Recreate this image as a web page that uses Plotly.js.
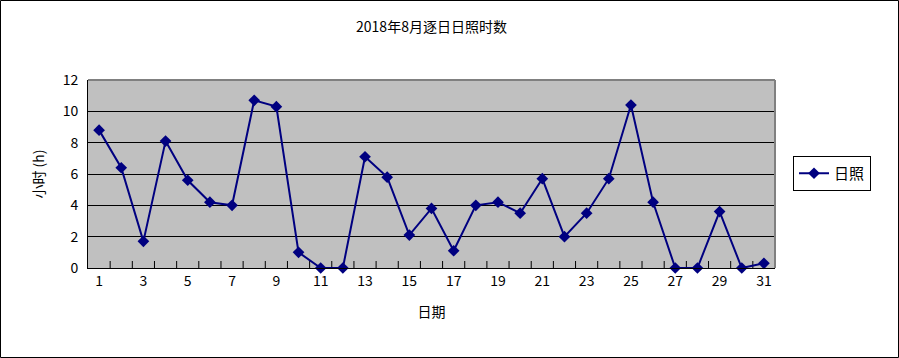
<!DOCTYPE html>
<html><head><meta charset="utf-8">
<script src="https://cdn.plot.ly/plotly-3.0.1.min.js"></script>
<style>html,body{margin:0;padding:0;background:#fff}#c{width:899px;height:358px}</style>
</head><body><div id="c"></div>
<script>
const days = [1,2,3,4,5,6,7,8,9,10,11,12,13,14,15,16,17,18,19,20,21,22,23,24,25,26,27,28,29,30,31];
const sunshine = [8.8,6.4,1.7,8.1,5.6,4.2,4.0,10.7,10.3,1.0,0,0,7.1,5.8,2.1,3.8,1.1,4.0,4.2,3.5,5.7,2.0,3.5,5.7,10.4,4.2,0,0,3.6,0,0.3];
const xTickVals = [1,3,5,7,9,11,13,15,17,19,21,23,25,27,29,31];
const xTickText = xTickVals.map(String);
const boundaryTicks = days.slice(0,30).map(d => d + 0.5);
const yTickVals = [0,2,4,6,8,10,12];
const seriesName = '日照';
const titleText = '2018年8月逐日日照时数';
const xTitle = '日期';
const yTitle = '小时 (h)';

const font = "'Noto Sans CJK SC', 'DejaVu Sans', sans-serif";
const L = 88, R = 775, T = 80, B = 268;
const pw = R - L, ph = B - T;

const traces = [{
  // category boundary tick marks along the x axis (upper half visible, clipped at the axis)
  x: boundaryTicks, y: boundaryTicks.map(() => 0), type: 'scatter', mode: 'markers',
  marker: {symbol: 'line-ns', size: 10, color: '#000', line: {color: '#000', width: 1}},
  cliponaxis: true, showlegend: false, hoverinfo: 'skip'
}, {
  x: days, y: sunshine, name: seriesName, type: 'scatter', mode: 'lines+markers',
  line: {color: '#000080', width: 2},
  marker: {symbol: 'diamond', size: 9, color: '#000080'},
  cliponaxis: false
}];

const layout = {
  width: 899, height: 358,
  margin: {l: L, r: 899 - R, t: T, b: 358 - B, pad: 0},
  paper_bgcolor: '#ffffff', plot_bgcolor: '#c0c0c0',
  font: {family: font, size: 13, color: '#000'},
  title: {text: titleText, x: 0.5, xref: 'paper', y: 1 - 27/358, yanchor: 'middle', font: {family: font, size: 14, color: '#000'}},
  showlegend: true,
  legend: {x: (793 - L)/pw, xanchor: 'left', y: (B - 173.5)/ph, yanchor: 'middle',
    bordercolor: '#000', borderwidth: 1, bgcolor: '#fff', font: {family: font, size: 15}},
  xaxis: {
    range: [0.5, 31.5], tickmode: 'array', tickvals: xTickVals, ticktext: xTickText, ticks: '', tickangle: 0,
    showgrid: false, zeroline: false,
    showline: true, linecolor: '#000', linewidth: 1, fixedrange: true,
    tickfont: {family: font, size: 14},
    title: {text: xTitle, font: {family: font, size: 14}, standoff: 18}
  },
  yaxis: {
    range: [0, 12], tickvals: yTickVals, ticks: '', showgrid: true, gridcolor: '#000', gridwidth: 1,
    zeroline: false, showline: true, linecolor: '#000', linewidth: 1,
    tickfont: {family: font, size: 14}, ticklabelstandoff: 6,
    title: {text: yTitle, font: {family: font, size: 14}, standoff: 14}
  },
  shapes: [
    {type: 'line', xref: 'paper', yref: 'paper', x0: 0, x1: 1, y0: 1, y1: 1, line: {color: '#808080', width: 2}},
    {type: 'line', xref: 'paper', yref: 'paper', x0: 1, x1: 1, y0: 0, y1: 1, line: {color: '#808080', width: 2}},
    {type: 'rect', xref: 'paper', yref: 'paper', x0: (0.5 - L)/pw, x1: (898.5 - L)/pw, y0: (B - 357.5)/ph, y1: (B - 0.5)/ph, line: {color: '#000', width: 1}, fillcolor: 'rgba(0,0,0,0)', layer: 'above'}
  ]
};

Plotly.newPlot('c', traces, layout, {staticPlot: true});
</script></body></html>
